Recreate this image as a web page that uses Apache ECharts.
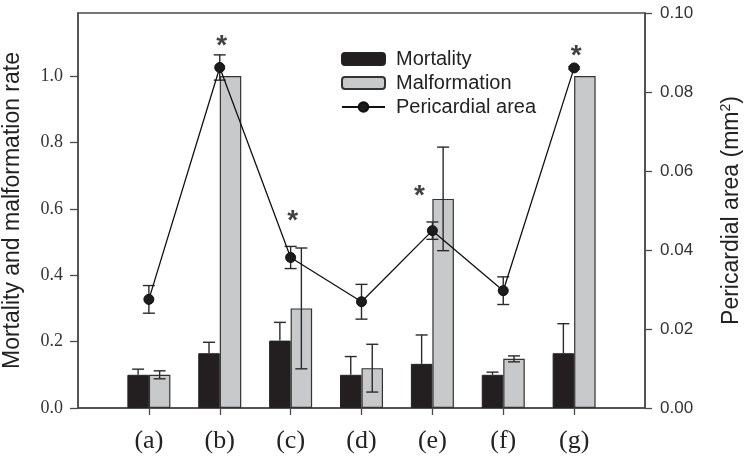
<!DOCTYPE html>
<html>
<head>
<meta charset="utf-8">
<script src="https://cdn.jsdelivr.net/npm/echarts@6/dist/echarts.min.js"></script>
<style>html,body{margin:0;padding:0;background:#fff}#c{width:751px;height:458px}</style>
</head>
<body>
<div id="c"></div>
<script>
const categories = ['(a)', '(b)', '(c)', '(d)', '(e)', '(f)', '(g)'];
const mortality = [0.10, 0.165, 0.203, 0.10, 0.133, 0.10, 0.165];
const mortalityErr = [0.017, 0.033, 0.055, 0.055, 0.087, 0.008, 0.089];
const malformation = [0.10, 1.0, 0.30, 0.12, 0.63, 0.148, 1.0];
const malformationErr = [0.012, 0, 0.182, 0.072, 0.156, 0.009, 0];
const area = [0.0275, 0.0862, 0.0381, 0.0269, 0.0449, 0.0297, 0.0861];
const areaErr = [0.0035, 0.0032, 0.0028, 0.0044, 0.0022, 0.0035, 0.0003];
const stars = ['', '*', '*', '', '*', '', '*'];
const starLevel = [null, 0.0937, 0.0492, null, 0.0556, null, 0.0911];
const leftTicks = [0, 0.2, 0.4, 0.6, 0.8, 1.0];

const SERIF = "'Liberation Serif', 'Times New Roman', serif";
const SANS = "'Liberation Sans', Arial, sans-serif";
const BAR_W = 21.5;
const axisCats = [''].concat(categories, ['']);
const pad = arr => ['-'].concat(arr, ['-']);

function errSeries(vals, errs, offset, yIdx, z, upOnly) {
  return {
    type: 'custom', yAxisIndex: yIdx, z: z, silent: true,
    data: vals.map((v, i) => [i + 1, v, errs[i]]),
    renderItem: function (params, api) {
      const xi = api.value(0), v = api.value(1), e = api.value(2);
      if (!(e > 0)) return { type: 'group', children: [] };
      const top = api.coord([xi, v + e]);
      const mid = api.coord([xi, v]);
      const bot = upOnly ? mid : api.coord([xi, v - e]);
      const x = top[0] + offset;
      const cap = 6;
      const st = { stroke: '#2a2a2a', lineWidth: 1.4 };
      const kids = [
        { type: 'line', shape: { x1: x, y1: top[1], x2: x, y2: bot[1] }, style: st },
        { type: 'line', shape: { x1: x - cap, y1: top[1], x2: x + cap, y2: top[1] }, style: st }
      ];
      if (!upOnly) kids.push({ type: 'line', shape: { x1: x - cap, y1: bot[1], x2: x + cap, y2: bot[1] }, style: st });
      return { type: 'group', children: kids };
    }
  };
}

const chart = echarts.init(document.getElementById('c'), null, { renderer: 'canvas' });
chart.setOption({
  animation: false,
  backgroundColor: '#fff',
  grid: { left: 78, right: 106, top: 13, bottom: 50, outerBoundsMode: 'none', containLabel: false,
    show: true, borderColor: '#4a4a4a', borderWidth: 1.5, backgroundColor: 'transparent' },
  legend: {
    orient: 'vertical', left: 336, top: 44, itemWidth: 43, itemHeight: 12, itemGap: 4,
    data: ['Mortality', 'Malformation', 'Pericardial area'],
    textStyle: { fontFamily: SANS, fontSize: 20, color: '#222', lineHeight: 20, padding: [0, 0, 0, 6] }
  },
  xAxis: {
    type: 'category', data: axisCats, boundaryGap: false,
    axisLine: { lineStyle: { color: '#4a4a4a', width: 1.5 } },
    axisTick: { length: 7, lineStyle: { color: '#4a4a4a', width: 1.3 }, interval: (i) => i > 0 && i < axisCats.length - 1 },
    axisLabel: { interval: 0, margin: 20, fontFamily: SERIF, fontSize: 26, color: '#222' },
    splitLine: { show: false }
  },
  yAxis: [
    {
      type: 'value', min: 0, max: 1.19, position: 'left',
      name: 'Mortality and malformation rate', nameLocation: 'middle', nameGap: 54,
      nameTextStyle: { fontFamily: SANS, fontSize: 23, color: '#222' },
      axisLine: { show: true, lineStyle: { color: '#4a4a4a', width: 1.5 } },
      axisTick: { show: true, length: 8, customValues: leftTicks, lineStyle: { color: '#4a4a4a', width: 1.3 } },
      axisLabel: { customValues: leftTicks, margin: 15, formatter: v => v.toFixed(1), fontFamily: SERIF, fontSize: 18, color: '#333' },
      splitLine: { show: false }
    },
    {
      type: 'value', min: 0, max: 0.1, interval: 0.02, position: 'right',
      name: 'Pericardial area (mm{sup|2})', nameLocation: 'middle', nameGap: 74,
      nameTextStyle: { fontFamily: SANS, fontSize: 23, color: '#222',
        rich: { sup: { fontFamily: SANS, fontSize: 14, color: '#222', verticalAlign: 'top', padding: [0, 0, 11, 0] } } },
      axisLine: { show: true, lineStyle: { color: '#4a4a4a', width: 1.5 } },
      axisTick: { show: true, length: 7, lineStyle: { color: '#4a4a4a', width: 1.3 } },
      axisLabel: { margin: 15, formatter: v => v.toFixed(2), fontFamily: SANS, fontSize: 17, color: '#333' },
      splitLine: { show: false }
    }
  ],
  series: [
    { name: 'Mortality', type: 'bar', data: pad(mortality), barWidth: BAR_W, barGap: '0%', z: 2,
      itemStyle: { color: '#231f20', borderColor: '#222', borderWidth: 1 } },
    { name: 'Malformation', type: 'bar', data: pad(malformation), barWidth: BAR_W, barGap: '0%', z: 2,
      itemStyle: { color: '#c8c9ca', borderColor: '#333', borderWidth: 1.2 } },
    errSeries(mortality, mortalityErr, -BAR_W / 2, 0, 3, true),
    errSeries(malformation, malformationErr, BAR_W / 2, 0, 3, false),
    { name: 'Pericardial area', type: 'line', yAxisIndex: 1, data: pad(area), z: 5,
      symbol: 'circle', symbolSize: 10, showAllSymbol: true,
      lineStyle: { color: '#111', width: 1.3 },
      itemStyle: { color: '#1c1c1c', borderColor: '#111', borderWidth: 1 } },
    errSeries(area, areaErr, 0, 1, 4, false),
    { type: 'scatter', yAxisIndex: 1, symbolSize: 0, silent: true, z: 6,
      data: starLevel.map((v, i) => v == null ? null : { value: [i + 1, v], label: { formatter: stars[i], offset: i === 4 ? [-13, 8] : [2, 8] } }).filter(d => d),
      label: { show: true, position: 'inside', fontFamily: SANS, fontSize: 28, fontWeight: 'bold', color: '#111' } }
  ]
});
</script>
</body>
</html>
